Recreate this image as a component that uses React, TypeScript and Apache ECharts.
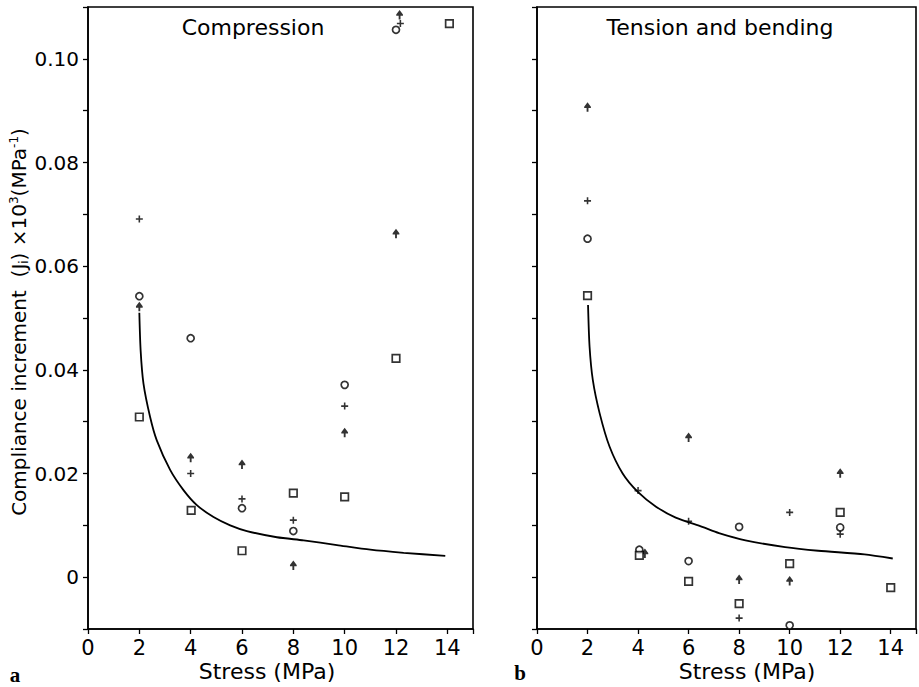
import React, { useEffect, useRef } from "react";
import * as echarts from "echarts";

// ---- Data ----
const compPlus = [[2, 0.0691], [4, 0.0200], [6, 0.0151], [8, 0.0110], [10, 0.0330], [12.17, 0.1068]];
const compCircle = [[2, 0.0542], [4, 0.0461], [6, 0.0133], [8, 0.0089], [10, 0.0371], [12, 0.1056]];
const compArrow = [[2, 0.0522], [4, 0.0231], [6, 0.0218], [8, 0.0023], [10, 0.0279], [12, 0.0663], [12.14, 0.1085]];
const compSquare = [[2, 0.0309], [4.02, 0.0129], [6, 0.0051], [8, 0.0162], [10, 0.0155], [12, 0.0422], [14.08, 0.1068]];
const compCurve = [[2.0, 0.051], [2.05, 0.0438], [2.16, 0.0374], [2.42, 0.0309], [2.68, 0.0264], [3.2, 0.0207], [3.72, 0.0168], [4.24, 0.0139], [4.89, 0.0116], [5.54, 0.0100], [6.19, 0.0089], [7.36, 0.0077], [8.4, 0.0071], [9.7, 0.0062], [11.0, 0.0053], [12.3, 0.0047], [13.92, 0.0041]];

const tensPlus = [[2, 0.0726], [4, 0.0167], [6, 0.0108], [8, -0.0079], [10, 0.0125], [12, 0.0083]];
const tensCircle = [[2, 0.0653], [4.05, 0.0053], [6, 0.0031], [8, 0.0097], [10, -0.0093], [12, 0.0096]];
const tensArrow = [[2, 0.0907], [4.27, 0.0046], [6, 0.0270], [8, -0.0004], [10, -0.0007], [12, 0.0201]];
const tensSquare = [[2, 0.0543], [4.05, 0.0042], [6, -0.0008], [8, -0.0051], [10, 0.0026], [12, 0.0125], [14, -0.0020]];
const tensCurve = [[2.02, 0.0525], [2.08, 0.0445], [2.21, 0.0380], [2.48, 0.0316], [2.87, 0.0252], [3.39, 0.0200], [3.98, 0.0165], [4.71, 0.0136], [5.49, 0.0115], [6.54, 0.0097], [7.2, 0.0085], [8.25, 0.0071], [9.82, 0.0058], [11.13, 0.0051], [12.96, 0.0044], [14.08, 0.0036]];

const panelTitles = ["Compression", "Tension and bending"];
const panelLetters = ["a", "b"];
const xName = "Stress (MPa)";

const FONT = "'DejaVu Sans', sans-serif";
const PLUS = "path://M-0.9,-4H0.9V-0.9H4V0.9H0.9V4H-0.9V0.9H-4V-0.9H-0.9Z";
const ARROW = "path://M0,-5L4,-0.5L4,0.8L1.1,0.8L1.1,4.5L-1.1,4.5L-1.1,0.8L-4,0.8L-4,-0.5Z";

const xFmt = (v: number) => (Math.abs(v % 2) < 1e-9 && v <= 14 ? String(Math.round(v)) : "");
const yFmt = (v: number) => {
  const k = Math.round(v * 100);
  if (k % 2 !== 0) return "";
  if (k === 0) return "0";
  return (k / 100).toFixed(2);
};

function scatter(idx: number, data: number[][], kind: string) {
  const base: any = { type: "scatter", xAxisIndex: idx, yAxisIndex: idx, data, symbolKeepAspect: true, silent: true };
  if (kind === "circle") return { ...base, symbol: "circle", symbolSize: 7, itemStyle: { color: "#fff", borderColor: "#000", borderWidth: 1.7 } };
  if (kind === "square") return { ...base, symbol: "rect", symbolSize: 7.5, itemStyle: { color: "#fff", borderColor: "#000", borderWidth: 1.7 } };
  if (kind === "plus") return { ...base, symbol: PLUS, symbolSize: 7, itemStyle: { color: "#000" } };
  return { ...base, symbol: ARROW, symbolSize: [8, 9.5], itemStyle: { color: "#000" } };
}

function curve(idx: number, data: number[][]) {
  return { type: "line", xAxisIndex: idx, yAxisIndex: idx, data, showSymbol: false, smooth: 0.25, lineStyle: { color: "#000", width: 1.8 }, silent: true };
}

export default function App() {
  const ref = useRef<HTMLDivElement>(null);
  useEffect(() => {
    if (!ref.current) return;
    const chart = echarts.init(ref.current, undefined, { renderer: "svg" });
    const axisCommon = {
      axisLine: { onZero: false, lineStyle: { color: "#000", width: 1.6 } },
      splitLine: { show: false },
    };
    const xAxis = [0, 1].map((i) => ({
      type: "value", gridIndex: i, min: 0, max: 15, interval: 2,
      ...axisCommon,
      axisTick: { show: true, inside: false, length: 5, lineStyle: { color: "#000", width: 1.3 } },
      axisLabel: { formatter: xFmt, color: "#000", fontSize: 21, fontFamily: FONT, margin: 8 },
    }));
    const yAxis = [0, 1].map((i) => ({
      type: "value", gridIndex: i, min: -0.01, max: 0.11, interval: 0.01,
      ...axisCommon,
      axisTick: { show: true, inside: false, length: 5, lineStyle: { color: "#000", width: 1.3 } },
      axisLabel: { show: i === 0, formatter: yFmt, color: "#000", fontSize: 20, fontFamily: FONT, margin: 9 },
    }));
    const option: any = {
      animation: false,
      backgroundColor: "#fff",
      grid: [
        { left: 88, top: 7, width: 385, height: 622, show: true, borderColor: "#000", borderWidth: 1.6 },
        { left: 537, top: 7, width: 383, height: 622, show: true, borderColor: "#000", borderWidth: 1.6 },
      ],
      xAxis,
      yAxis,
      series: [
        curve(0, compCurve),
        scatter(0, compPlus, "plus"),
        scatter(0, compCircle, "circle"),
        scatter(0, compArrow, "arrow"),
        scatter(0, compSquare, "square"),
        curve(1, tensCurve),
        scatter(1, tensPlus, "plus"),
        scatter(1, tensCircle, "circle"),
        scatter(1, tensArrow, "arrow"),
        scatter(1, tensSquare, "square"),
      ],
      graphic: [
        { type: "text", x: 253, y: 27, style: { text: panelTitles[0], fill: "#000", font: `22px ${FONT}`, align: "center", verticalAlign: "middle" } },
        { type: "text", x: 720, y: 27, style: { text: panelTitles[1], fill: "#000", font: `22px ${FONT}`, align: "center", verticalAlign: "middle" } },
        { type: "text", x: 267, y: 671, style: { text: xName, fill: "#000", font: `22px ${FONT}`, align: "center", verticalAlign: "middle" } },
        { type: "text", x: 747, y: 671, style: { text: xName, fill: "#000", font: `22px ${FONT}`, align: "center", verticalAlign: "middle" } },
        { type: "text", x: 15, y: 675, style: { text: panelLetters[0], fill: "#000", font: `bold 21px 'Liberation Serif', serif`, align: "center", verticalAlign: "middle" } },
        { type: "text", x: 520, y: 673, style: { text: panelLetters[1], fill: "#000", font: `bold 21px 'Liberation Serif', serif`, align: "center", verticalAlign: "middle" } },
        {
          type: "text", x: 19, y: 322, rotation: Math.PI / 2,
          style: {
            text: "Compliance increment  (J{s|i}) ×10{p|3}(MPa{p|-1})",
            fill: "#000", font: `20px ${FONT}`, align: "center", verticalAlign: "middle",
            rich: {
              s: { fontSize: 12, fontFamily: FONT, fill: "#000", verticalAlign: "bottom", padding: [10, 0, 0, 0] },
              p: { fontSize: 12, fontFamily: FONT, fill: "#000", verticalAlign: "top", padding: [0, 0, 10, 0] },
            },
          },
        },
      ],
    };
    chart.setOption(option);
    return () => chart.dispose();
  }, []);
  return <div ref={ref} style={{ position: "fixed", left: 0, top: 0, width: 919, height: 687, background: "#fff" }} />;
}
